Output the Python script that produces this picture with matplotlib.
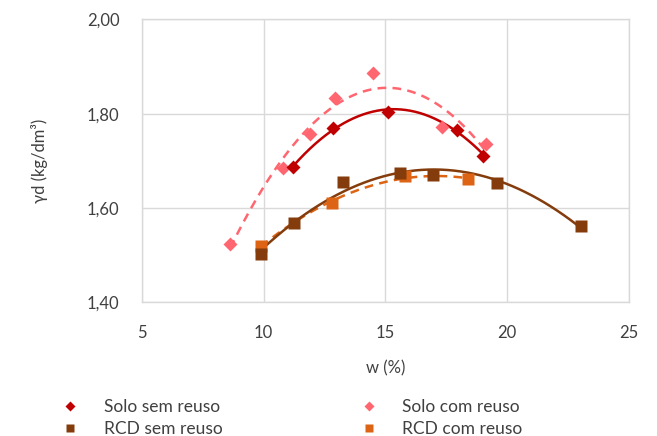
import numpy as np
import matplotlib
matplotlib.use("Agg")
import matplotlib.pyplot as plt

plt.rcParams['font.family'] = ['Lato', 'DejaVu Sans']

# Data (w %, dry density kg/dm3)
solo_sem_w = [11.21, 12.86, 15.11, 17.95, 19.02]
solo_sem_y = [1.687, 1.770, 1.804, 1.766, 1.711]
solo_com_w = [8.63, 10.80, 11.91, 12.94, 14.50, 17.33, 19.14]
solo_com_y = [1.524, 1.685, 1.757, 1.834, 1.887, 1.772, 1.736]
rcd_sem_w = [9.89, 11.23, 13.28, 15.61, 16.96, 19.58, 23.04]
rcd_sem_y = [1.502, 1.568, 1.656, 1.675, 1.670, 1.653, 1.562]
rcd_com_w = [9.89, 12.80, 15.81, 18.40]
rcd_com_y = [1.520, 1.610, 1.668, 1.661]

labels = ["Solo sem reuso", "RCD sem reuso", "Solo com reuso", "RCD com reuso"]
xticks = [5, 10, 15, 20, 25]
yticks = [1.40, 1.60, 1.80, 2.00]

c_solo_sem = "#C00000"
c_solo_com = "#FF6670"
c_rcd_sem = "#843C0C"
c_rcd_com = "#DC6414"

fig = plt.figure(figsize=(6.57, 4.36), dpi=100)
ax = fig.add_axes([0.2157, 0.3067, 0.9574 - 0.2157, 0.9557 - 0.3067])

def trend(w, y, color, ls):
    p = np.polyfit(w, y, 2)
    xs = np.linspace(min(w), max(w), 200)
    ax.plot(xs, np.polyval(p, xs), color=color, ls=ls, lw=1.8, zorder=2,
            dashes=(3.5, 2.5) if ls == '--' else (None, None))

# com reuso drawn first (behind)
trend(solo_com_w, solo_com_y, c_solo_com, '--')
trend(rcd_com_w, rcd_com_y, c_rcd_com, '--')
trend(solo_sem_w, solo_sem_y, c_solo_sem, '-')
trend(rcd_sem_w, rcd_sem_y, c_rcd_sem, '-')

h3, = ax.plot(solo_com_w, solo_com_y, 'D', color=c_solo_com, ms=7, mec='none', zorder=3)
h4, = ax.plot(rcd_com_w, rcd_com_y, 's', color=c_rcd_com, ms=8, mec='none', zorder=3)
h1, = ax.plot(solo_sem_w, solo_sem_y, 'D', color=c_solo_sem, ms=7, mec='none', zorder=4)
h2, = ax.plot(rcd_sem_w, rcd_sem_y, 's', color=c_rcd_sem, ms=8, mec='none', zorder=4)

ax.set_xlim(5, 25)
ax.set_ylim(1.40, 2.00)
ax.set_xticks(xticks)
ax.set_yticks(yticks)
ax.set_xticklabels([str(t) for t in xticks])
ax.set_yticklabels([f"{t:.2f}".replace('.', ',') for t in yticks])
ax.grid(True, color="#D9D9D9", lw=1)
ax.set_axisbelow(True)
for s in ax.spines.values():
    s.set_color("#D9D9D9")
    s.set_linewidth(1)
ax.tick_params(length=0, labelsize=12, colors="#404040", pad=16)
ax.tick_params(axis='x', pad=16)
ax.set_xlabel("w (%)", fontsize=12, color="#404040", labelpad=14)
ax.set_ylabel("γd (kg/dm³)", fontsize=12, color="#404040", labelpad=28)

leg = fig.legend([h1, h2, h3, h4], labels, ncol=2, loc='upper left',
                 frameon=False, fontsize=12.5, handlelength=1.0, handletextpad=1.45,
                 columnspacing=7.9, labelspacing=0.35, labelcolor="#404040",
                 markerscale=0.8, borderaxespad=0)
leg.set_bbox_to_anchor((0.083, 1 - 392 / 436), transform=fig.transFigure)

fig.savefig("out.png", dpi=100)
